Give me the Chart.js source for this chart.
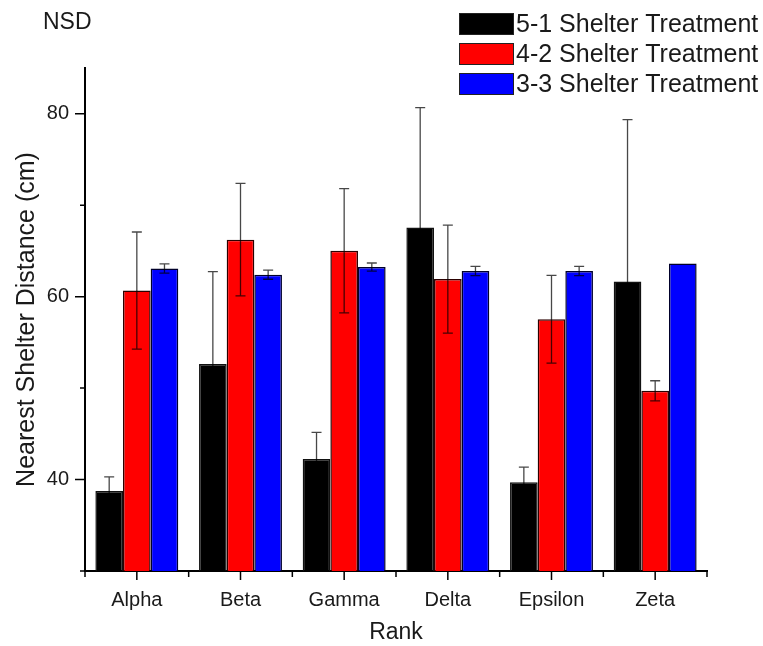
<!DOCTYPE html>
<html>
<head>
<meta charset="utf-8">
<script src="https://cdn.jsdelivr.net/npm/chart.js@4.4.1/dist/chart.umd.min.js"></script>
<style>
  html, body { margin: 0; padding: 0; background: #fff; }
  #wrap { width: 763px; height: 646px; }
</style>
</head>
<body>
<div id="wrap"><canvas id="nsd-chart"></canvas></div>
<script>
var categories = ["Alpha", "Beta", "Gamma", "Delta", "Epsilon", "Zeta"];
var seriesLabels = ["5-1 Shelter Treatment", "4-2 Shelter Treatment", "3-3 Shelter Treatment"];

var shelter51 = [38.75, 52.64, 42.26, 67.57, 39.7, 61.66];
var shelter51Err = [1.55, 10.1, 2.9, 13.1, 1.65, 17.7];
var shelter42 = [60.67, 66.23, 65.02, 61.92, 57.53, 49.7];
var shelter42Err = [6.4, 6.15, 6.8, 5.9, 4.8, 1.1];
var shelter33 = [63.08, 62.4, 63.23, 62.8, 62.8, 63.63];
var shelter33Err = [0.5, 0.5, 0.45, 0.5, 0.5, 0];

var majorTicks = [40, 60, 80];
var minorTicks = [30, 50, 70];

var FONT = "'Liberation Sans', Arial, sans-serif";
var TEXT = "#1a1a1a";

// error bars, axis ticks, legend and corner label
var extras = {
  id: 'extras',
  afterDatasetsDraw: function(chart) {
    var ctx = chart.ctx, y = chart.scales.y;
    ctx.save();
    ctx.strokeStyle = "rgba(0,0,0,0.72)";
    ctx.lineWidth = 1.3;
    chart.data.datasets.forEach(function(ds, i) {
      var meta = chart.getDatasetMeta(i);
      meta.data.forEach(function(bar, j) {
        var e = ds.errors[j];
        if (!e) return;
        var top = y.getPixelForValue(ds.data[j] + e);
        var bot = y.getPixelForValue(ds.data[j] - e);
        ctx.beginPath();
        ctx.moveTo(bar.x, top); ctx.lineTo(bar.x, bot);
        ctx.moveTo(bar.x - 5, top); ctx.lineTo(bar.x + 5, top);
        ctx.moveTo(bar.x - 5, bot); ctx.lineTo(bar.x + 5, bot);
        ctx.stroke();
      });
    });
    ctx.restore();
  },
  afterDraw: function(chart) {
    var ctx = chart.ctx, area = chart.chartArea;
    var x = chart.scales.x, y = chart.scales.y;
    ctx.save();
    ctx.strokeStyle = "#000";
    ctx.lineWidth = 1.5;
    ctx.beginPath();
    majorTicks.forEach(function(v) {
      var p = y.getPixelForValue(v);
      ctx.moveTo(area.left - 10, p); ctx.lineTo(area.left, p);
    });
    minorTicks.forEach(function(v) {
      var p = y.getPixelForValue(v);
      ctx.moveTo(area.left - 5, p); ctx.lineTo(area.left, p);
    });
    categories.forEach(function(c, j) {
      var p = x.getPixelForValue(j);
      ctx.moveTo(p, area.bottom); ctx.lineTo(p, area.bottom + 9);
    });
    for (var k = 0; k <= categories.length; k++) {
      var q = x.getPixelForValue(k - 0.5);
      ctx.moveTo(q, area.bottom); ctx.lineTo(q, area.bottom + 6);
    }
    ctx.stroke();

    // legend
    ctx.font = "25px " + FONT;
    ctx.textBaseline = "middle";
    ctx.textAlign = "left";
    chart.data.datasets.forEach(function(ds, i) {
      var by = 13 + i * 30;
      ctx.fillStyle = ds.backgroundColor;
      ctx.fillRect(459, by, 54, 21);
      ctx.strokeStyle = "#222";
      ctx.lineWidth = 1;
      ctx.strokeRect(459.5, by + 0.5, 54, 21);
      ctx.fillStyle = TEXT;
      ctx.fillText(ds.label, 516, by + 12);
    });

    ctx.font = "23px " + FONT;
    ctx.fillText("NSD", 43, 23);
    ctx.restore();
  }
};

new Chart(document.getElementById("nsd-chart"), {
  type: 'bar',
  data: {
    labels: categories,
    datasets: [
      { label: seriesLabels[0], data: shelter51, errors: shelter51Err, backgroundColor: "#000000", borderColor: "#111", borderWidth: 1.5 },
      { label: seriesLabels[1], data: shelter42, errors: shelter42Err, backgroundColor: "#ff0000", borderColor: "#2a0000", borderWidth: 1.5 },
      { label: seriesLabels[2], data: shelter33, errors: shelter33Err, backgroundColor: "#0000ff", borderColor: "#00002a", borderWidth: 1.5 }
    ]
  },
  options: {
    responsive: true,
    maintainAspectRatio: false,
    animation: false,
    layout: { padding: { left: 0, top: 68, right: 56, bottom: 0 } },
    datasets: { bar: { categoryPercentage: 0.8, barPercentage: 1.0, borderSkipped: 'bottom' } },
    plugins: {
      legend: { display: false },
      tooltip: { enabled: false }
    },
    scales: {
      x: {
        grid: { display: false, drawTicks: false },
        border: { display: true, color: "#000", width: 2 },
        ticks: { color: TEXT, font: { family: FONT, size: 20 }, padding: 17, maxRotation: 0 },
        title: { display: true, text: "Rank", color: TEXT, font: { family: FONT, size: 23 }, padding: { top: 0, bottom: 0 } },
        afterFit: function(s) { s.height = 75; }
      },
      y: {
        min: 30,
        max: 85,
        beginAtZero: false,
        grid: { display: false, drawTicks: false },
        border: { display: true, color: "#000", width: 2 },
        afterBuildTicks: function(s) { s.ticks = majorTicks.map(function(v) { return { value: v }; }); },
        ticks: { color: TEXT, font: { family: FONT, size: 20 }, padding: 16 },
        title: { display: true, text: "Nearest Shelter Distance (cm)", color: TEXT, font: { family: FONT, size: 25 }, padding: { top: 12, bottom: 0 } },
        afterFit: function(s) { s.width = 85; }
      }
    }
  },
  plugins: [extras]
});
</script>
</body>
</html>
